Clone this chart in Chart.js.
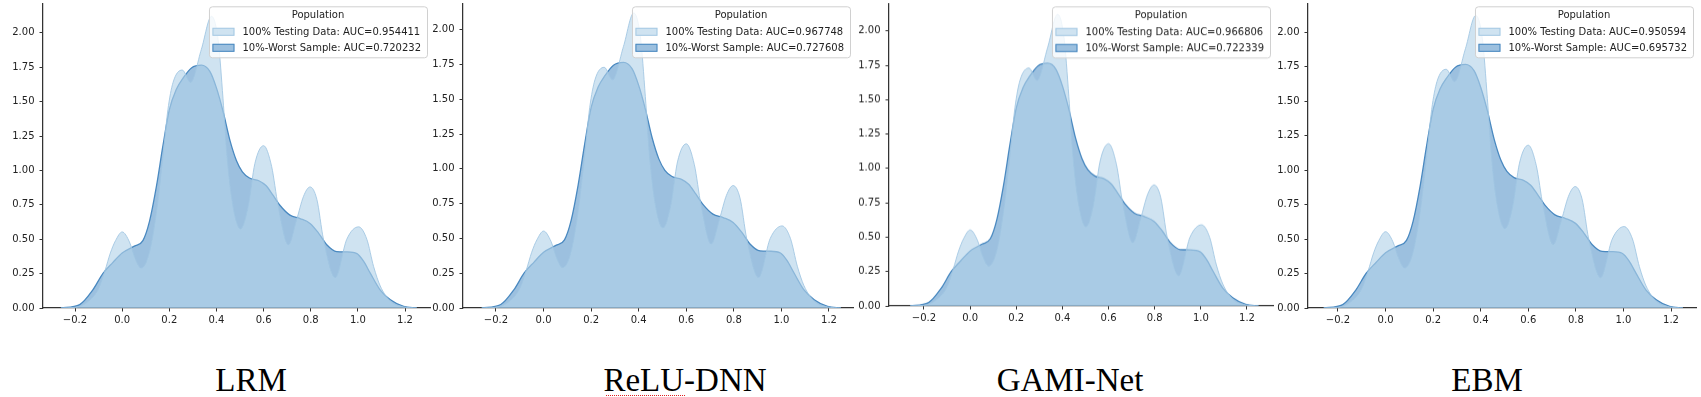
<!DOCTYPE html>
<html>
<head>
<meta charset="utf-8">
<script src="https://cdn.jsdelivr.net/npm/chart.js@4.4.1/dist/chart.umd.min.js"></script>
<style>
  html, body { margin: 0; padding: 0; background: #fff; }
  body { width: 1701px; height: 397px; position: relative; overflow: hidden; }
  canvas.panel { position: absolute; }
  .model { position: absolute; width: 240px; text-align: center; font-family: "Liberation Serif", "Times New Roman", serif; font-size: 33px; line-height: 33px; color: #000; }
  .spell { position: absolute; border-top: 1.5px dotted #e02020; height: 0; }
</style>
</head>
<body>
<canvas class="panel" id="c0"></canvas>
<canvas class="panel" id="c1"></canvas>
<canvas class="panel" id="c2"></canvas>
<canvas class="panel" id="c3"></canvas>
<div class="model" id="m0"></div>
<div class="model" id="m1"></div>
<div class="model" id="m2"></div>
<div class="model" id="m3"></div>
<div class="spell" style="left:606px; top:395px; width:79px;"></div>
<script>
'use strict';

// --- data ---
const modelNames = ['LRM', 'ReLU-DNN', 'GAMI-Net', 'EBM'];
const aucFull = ['0.954411', '0.967748', '0.966806', '0.950594'];
const aucWorst = ['0.720232', '0.727608', '0.722339', '0.695732'];

const xTicks = [-0.2, 0, 0.2, 0.4, 0.6, 0.8, 1.0, 1.2];
const yTicks = [0, 0.25, 0.5, 0.75, 1.0, 1.25, 1.5, 1.75, 2.0];

// 100% testing data density
const fullX = [-0.26, -0.2, -0.15, -0.1, -0.073, -0.05, -0.028, 0, 0.031, 0.055, 0.08, 0.115, 0.145, 0.173, 0.194, 0.216, 0.255, 0.29, 0.336, 0.379, 0.407, 0.428, 0.445, 0.47, 0.502, 0.535, 0.563, 0.6, 0.634, 0.662, 0.705, 0.74, 0.769, 0.797, 0.826, 0.854, 0.904, 0.953, 1.003, 1.038, 1.067, 1.095, 1.138, 1.194, 1.25];
const fullDensity = [0, 0.005, 0.04, 0.14, 0.27, 0.40, 0.49, 0.553, 0.48, 0.36, 0.29, 0.40, 0.69, 1.10, 1.44, 1.64, 1.73, 1.64, 1.88, 2.12, 1.95, 1.52, 1.10, 0.74, 0.575, 0.74, 1.05, 1.18, 1.03, 0.74, 0.46, 0.64, 0.81, 0.88, 0.79, 0.50, 0.22, 0.50, 0.59, 0.50, 0.30, 0.16, 0.05, 0.008, 0];

// 10%-worst sample density
const worstX = [-0.26, -0.18, -0.125, -0.082, -0.04, 0, 0.052, 0.088, 0.116, 0.145, 0.173, 0.2, 0.23, 0.258, 0.294, 0.336, 0.372, 0.4, 0.428, 0.457, 0.485, 0.51, 0.54, 0.58, 0.61, 0.64, 0.67, 0.712, 0.755, 0.797, 0.833, 0.868, 0.91, 0.953, 0.996, 1.024, 1.052, 1.095, 1.138, 1.194, 1.25];
const worstDensity = [0, 0.025, 0.13, 0.25, 0.33, 0.40, 0.45, 0.49, 0.63, 0.88, 1.18, 1.44, 1.59, 1.67, 1.745, 1.765, 1.72, 1.60, 1.43, 1.22, 1.07, 0.99, 0.945, 0.925, 0.89, 0.82, 0.745, 0.675, 0.65, 0.615, 0.545, 0.46, 0.41, 0.408, 0.395, 0.34, 0.255, 0.13, 0.06, 0.012, 0];

// --- layout of each panel (page pixels) ---
const panelBoxes = [
  { spine: 43, right: 430, top: 3.3, bottom: 308, xMin: -0.3358, xMax: 1.306, yMax: 2.215, label: 251 },
  { spine: 463, right: 853, top: 3.3, bottom: 308, xMin: -0.3387, xMax: 1.301, yMax: 2.19, label: 685 },
  { spine: 889, right: 1273, top: 3.3, bottom: 305.7, xMin: -0.3517, xMax: 1.3127, yMax: 2.2, label: 1070 },
  { spine: 1308, right: 1696, top: 3.3, bottom: 308, xMin: -0.326, xMax: 1.305, yMax: 2.208, label: 1487 },
];

const textColor = '#222222';
const axisColor = '#333333';
const lightFill = 'rgba(178, 210, 233, 0.62)';
const lightEdge = 'rgba(160, 198, 226, 0.85)';
const darkFill = 'rgba(74, 140, 196, 0.55)';
const darkEdge = '#4a89c0';
const tickFont = { family: '"DejaVu Sans", sans-serif', size: 10 };

const Y_AXIS_W = 43;
const X_AXIS_H = 25;
const TOP_SHIFT = 20;

function fmtMinus(s) {
  return s.replace('-', '\u2212');
}

function toPoints(xs, ys) {
  return xs.map((x, i) => ({ x: x, y: ys[i] }));
}

// legend drawn inside the axes, top right, like matplotlib
const populationLegend = {
  id: 'population_legend',
  afterDraw: (chart) => {
    const { ctx, chartArea } = chart;
    const idx = chart.options.plugins.population_legend.index;
    const rows = [
      { text: '100% Testing Data: AUC=' + aucFull[idx], fill: lightFill, edge: lightEdge },
      { text: '10%-Worst Sample: AUC=' + aucWorst[idx], fill: darkFill, edge: darkEdge },
    ];
    ctx.save();
    ctx.font = '10px "DejaVu Sans", sans-serif';
    const textW = Math.max(...rows.map((r) => ctx.measureText(r.text).width));
    const boxW = 33.5 + textW + 6;
    const boxH = 51;
    const right = chartArea.right - 3;
    const left = right - boxW;
    const top = chartArea.top + 3;

    ctx.beginPath();
    ctx.roundRect(left + 0.5, top + 0.5, boxW, boxH, 3);
    ctx.fillStyle = 'rgba(255, 255, 255, 0.8)';
    ctx.fill();
    ctx.strokeStyle = '#d0d0d0';
    ctx.lineWidth = 1;
    ctx.stroke();

    ctx.fillStyle = textColor;
    ctx.textBaseline = 'middle';
    ctx.textAlign = 'center';
    ctx.fillText('Population', left + boxW / 2, top + 9);

    ctx.textAlign = 'left';
    rows.forEach((r, i) => {
      const cy = top + 25.5 + i * 16;
      ctx.fillStyle = 'rgba(255,255,255,1)';
      ctx.fillRect(left + 3.5, cy - 4, 22, 8);
      ctx.fillStyle = r.fill;
      ctx.fillRect(left + 3.5, cy - 4, 22, 8);
      ctx.strokeStyle = r.edge;
      ctx.strokeRect(left + 4, cy - 3.5, 21, 7);
      ctx.fillStyle = textColor;
      ctx.fillText(r.text, left + 33.5, cy + 0.5);
    });
    ctx.restore();
  },
};

panelBoxes.forEach((box, i) => {
  const canvas = document.getElementById('c' + i);
  const w = box.right - box.spine + Y_AXIS_W + 4;
  const h = box.bottom + TOP_SHIFT + X_AXIS_H;
  canvas.style.left = (box.spine - Y_AXIS_W) + 'px';
  canvas.style.top = (-TOP_SHIFT) + 'px';
  canvas.style.width = w + 'px';
  canvas.style.height = h + 'px';
  canvas.width = w;
  canvas.height = h;

  const label = document.getElementById('m' + i);
  label.textContent = modelNames[i];
  label.style.left = (box.label - 120) + 'px';
  label.style.top = '364px';

  new Chart(canvas.getContext('2d'), {
    type: 'line',
    data: {
      datasets: [
        {
          label: '100% Testing Data',
          data: toPoints(fullX, fullDensity),
          backgroundColor: lightFill,
          borderColor: lightEdge,
          borderWidth: 1,
          fill: 'origin',
          pointRadius: 0,
          cubicInterpolationMode: 'monotone',
        },
        {
          label: '10%-Worst Sample',
          data: toPoints(worstX, worstDensity),
          backgroundColor: darkFill,
          borderColor: darkEdge,
          borderWidth: 1.3,
          fill: 'origin',
          pointRadius: 0,
          cubicInterpolationMode: 'monotone',
        },
      ],
    },
    options: {
      responsive: false,
      animation: false,
      events: [],
      layout: { padding: { top: box.top + TOP_SHIFT, right: 4, left: 0, bottom: 0 } },
      plugins: {
        legend: { display: false },
        tooltip: { enabled: false },
        population_legend: { index: i },
      },
      scales: {
        x: {
          type: 'linear',
          min: box.xMin,
          max: box.xMax,
          afterBuildTicks: (scale) => { scale.ticks = xTicks.map((v) => ({ value: v })); },
          afterFit: (scale) => { scale.height = X_AXIS_H; },
          ticks: {
            color: textColor,
            font: tickFont,
            padding: 3,
            maxRotation: 0,
            callback: (v) => fmtMinus(Number(v).toFixed(1)),
          },
          grid: { display: true, drawOnChartArea: false, drawTicks: true, tickLength: 3.5, color: axisColor, lineWidth: 1 },
          border: { display: true, color: axisColor, width: 1.25 },
        },
        y: {
          type: 'linear',
          min: 0,
          max: box.yMax,
          afterBuildTicks: (scale) => { scale.ticks = yTicks.map((v) => ({ value: v })); },
          afterFit: (scale) => { scale.width = Y_AXIS_W; },
          ticks: {
            color: textColor,
            font: tickFont,
            padding: 5,
            callback: (v) => Number(v).toFixed(2),
          },
          grid: { display: true, drawOnChartArea: false, drawTicks: true, tickLength: 3.5, color: axisColor, lineWidth: 1 },
          border: { display: true, color: axisColor, width: 1.25 },
        },
      },
    },
    plugins: [populationLegend],
  });
});
</script>
</body>
</html>
